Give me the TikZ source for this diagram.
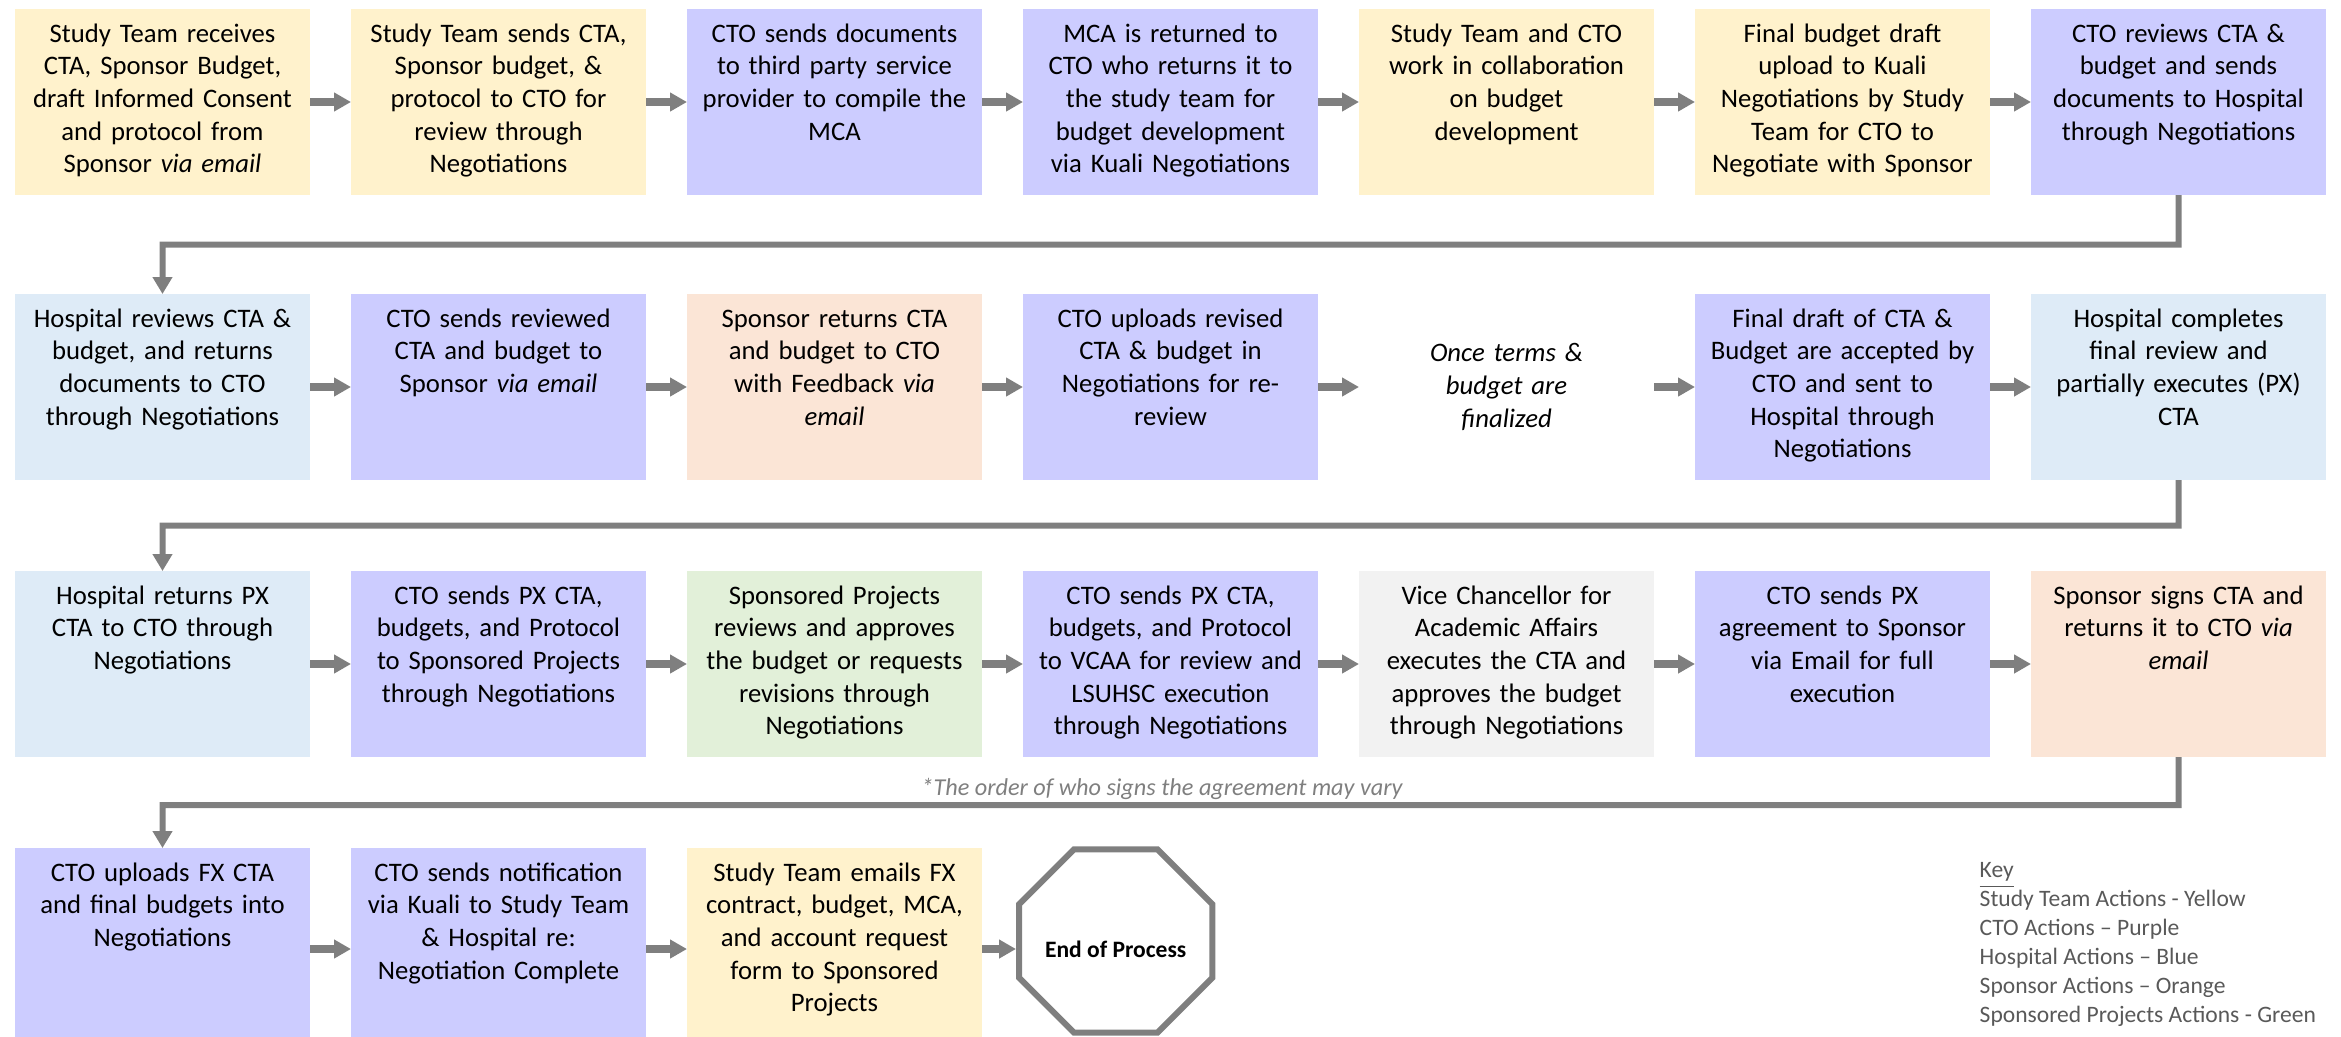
\documentclass[tikz,border=0pt]{standalone}
\usepackage{fontspec}
\setmainfont{Carlito}
\usetikzlibrary{positioning,arrows.meta,calc}

\definecolor{studyyellow}{HTML}{FFF2CC}
\definecolor{ctopurple}{HTML}{CCCCFF}
\definecolor{hospblue}{HTML}{DEEBF7}
\definecolor{sponsororange}{HTML}{FBE5D6}
\definecolor{spgreen}{HTML}{E2F0D9}
\definecolor{vcaagray}{HTML}{F2F2F2}
\definecolor{arrowgray}{HTML}{7F7F7F}
\definecolor{keygray}{HTML}{595959}

\begin{document}
\begin{tikzpicture}[
  node distance=0.41cm,
  stepbox/.style={rectangle, inner sep=0pt, outer sep=0pt, text width=2.95cm,
    align=center, text height=0.33cm, text depth=1.53cm,
    font=\fontsize{7.6}{9.3}\selectfont},
  lastrow/.style={text depth=1.69cm},
  study/.style={stepbox, fill=studyyellow},
  cto/.style={stepbox, fill=ctopurple},
  hosp/.style={stepbox, fill=hospblue},
  spons/.style={stepbox, fill=sponsororange},
  sproj/.style={stepbox, fill=spgreen},
  vcaa/.style={stepbox, fill=vcaagray},
  flow/.style={draw=arrowgray, line width=0.08cm, -{Triangle[length=0.17cm,width=0.18cm]}},
  rowturn/.style={draw=arrowgray, line width=0.06cm, -{Triangle[length=0.17cm,width=0.19cm]}},
]
  \useasboundingbox (0,0) rectangle (23.41,-10.36);

  % first row
  \node[study, anchor=north west] (a1) at (0.15,-0.09) {Study Team receives\\ CTA, Sponsor Budget,\\ draft Informed Consent\\ and protocol from\\ Sponsor \textit{via email}};
  \node[study, right=of a1] (a2) {Study Team sends CTA,\\ Sponsor budget, \&\\ protocol to CTO for\\ review through\\ Negotiations};
  \node[cto, right=of a2] (a3) {CTO sends documents\\ to third party service\\ provider to compile the\\ MCA};
  \node[cto, right=of a3] (a4) {MCA is returned to\\ CTO who returns it to\\ the study team for\\ budget development\\ via Kuali Negotiations};
  \node[study, right=of a4] (a5) {Study Team and CTO\\ work in collaboration\\ on budget\\ development};
  \node[study, right=of a5] (a6) {Final budget draft\\ upload to Kuali\\ Negotiations by Study\\ Team for CTO to\\ Negotiate with Sponsor};
  \node[cto, right=of a6] (a7) {CTO reviews CTA \&\\ budget and sends\\ documents to Hospital\\ through Negotiations};

  % second row
  \node[hosp, below=0.99cm of a1] (b1) {Hospital reviews CTA \&\\ budget, and returns\\ documents to CTO\\ through Negotiations};
  \node[cto, right=of b1] (b2) {CTO sends reviewed\\ CTA and budget to\\ Sponsor \textit{via email}};
  \node[spons, right=of b2] (b3) {Sponsor returns CTA\\ and budget to CTO\\ with Feedback \textit{via}\\ \textit{email}};
  \node[cto, right=of b3] (b4) {CTO uploads revised\\ CTA \& budget in\\ Negotiations for re-\\ review};
  \node[inner sep=0pt, outer sep=0pt, text width=2.95cm, align=center,
    font=\fontsize{7.6}{9.3}\selectfont\itshape, right=of b4] (b5) {Once terms \&\\ budget are\\ finalized};
  \node[cto, right=of b5] (b6) {Final draft of CTA \&\\ Budget are accepted by\\ CTO and sent to\\ Hospital through\\ Negotiations};
  \node[hosp, right=of b6] (b7) {Hospital completes\\ final review and\\ partially executes (PX)\\ CTA};

  % third row
  \node[hosp, below=0.91cm of b1] (c1) {Hospital returns PX\\ CTA to CTO through\\ Negotiations};
  \node[cto, right=of c1] (c2) {CTO sends PX CTA,\\ budgets, and Protocol\\ to Sponsored Projects\\ through Negotiations};
  \node[sproj, right=of c2] (c3) {Sponsored Projects\\ reviews and approves\\ the budget or requests\\ revisions through\\ Negotiations};
  \node[cto, right=of c3] (c4) {CTO sends PX CTA,\\ budgets, and Protocol\\ to VCAA for review and\\ LSUHSC execution\\ through Negotiations};
  \node[vcaa, right=of c4] (c5) {Vice Chancellor for\\ Academic Affairs\\ executes the CTA and\\ approves the budget\\ through Negotiations};
  \node[cto, right=of c5] (c6) {CTO sends PX\\ agreement to Sponsor\\ via Email for full\\ execution};
  \node[spons, right=of c6] (c7) {Sponsor signs CTA and\\ returns it to CTO \textit{via}\\ \textit{email}};

  % last row, runs off the bottom edge
  \node[cto, lastrow, below=0.91cm of c1] (d1) {CTO uploads FX CTA\\ and final budgets into\\ Negotiations};
  \node[cto, lastrow, right=of d1] (d2) {CTO sends notification\\ via Kuali to Study Team\\ \& Hospital re:\\ Negotiation Complete};
  \node[study, lastrow, right=of d2] (d3) {Study Team emails FX\\ contract, budget, MCA,\\ and account request\\ form to Sponsored\\ Projects};

  % stop sign
  \node[minimum width=1.92cm, minimum height=1.82cm, inner sep=0pt,
    font=\fontsize{6.7}{8}\selectfont\bfseries, right=0.37cm of d3, yshift=0.08cm] (stop)
    {\raisebox{-0.165cm}[0pt][0pt]{End of Process}};
  \draw[arrowgray, line width=0.06cm, line join=miter]
    ($(stop.north west)+(0.55,0)$) -- ($(stop.north east)+(-0.55,0)$)
    -- ($(stop.north east)+(0,-0.55)$) -- ($(stop.south east)+(0,0.55)$)
    -- ($(stop.south east)+(-0.55,0)$) -- ($(stop.south west)+(0.55,0)$)
    -- ($(stop.south west)+(0,0.55)$) -- ($(stop.north west)+(0,-0.55)$) -- cycle;

  % arrows inside the rows
  \foreach \r in {a,b,c}
    \foreach \i [count=\j from 2] in {1,...,6}
      \draw[flow] (\r\i.east) -- (\r\j.west);
  \draw[flow] (d1.east) -- (d2.west);
  \draw[flow] (d2.east) -- (d3.west);
  \draw[flow] (d3.east) -- ([xshift=-0.03cm]d3.east -| stop.west);

  % turns from one row to the next
  \draw[rowturn] (a7.south) -- ($(a7.south)!0.5!(b7.north)$) -| (b1.north);
  \draw[rowturn] (b7.south) -- ($(b7.south)!0.5!(c7.north)$) -| (c1.north);
  \draw[rowturn] (c7.south) -- ($(c7.south)!0.53!(c7.south |- d1.north)$) -| (d1.north);

  \node[text=arrowgray, font=\fontsize{6.9}{8.5}\selectfont\itshape] (note) at (11.62,-7.89)
    {*The order of who signs the agreement may vary};

  % key
  \node[anchor=north west, align=left, inner sep=0pt, text=keygray,
    font=\fontsize{6.7}{8.25}\selectfont] (key) at (19.79,-8.62)
    {\underline{Key}\\ Study Team Actions - Yellow\\ CTO Actions -- Purple\\ Hospital Actions -- Blue\\ Sponsor Actions -- Orange\\ Sponsored Projects Actions - Green};
\end{tikzpicture}
\end{document}
